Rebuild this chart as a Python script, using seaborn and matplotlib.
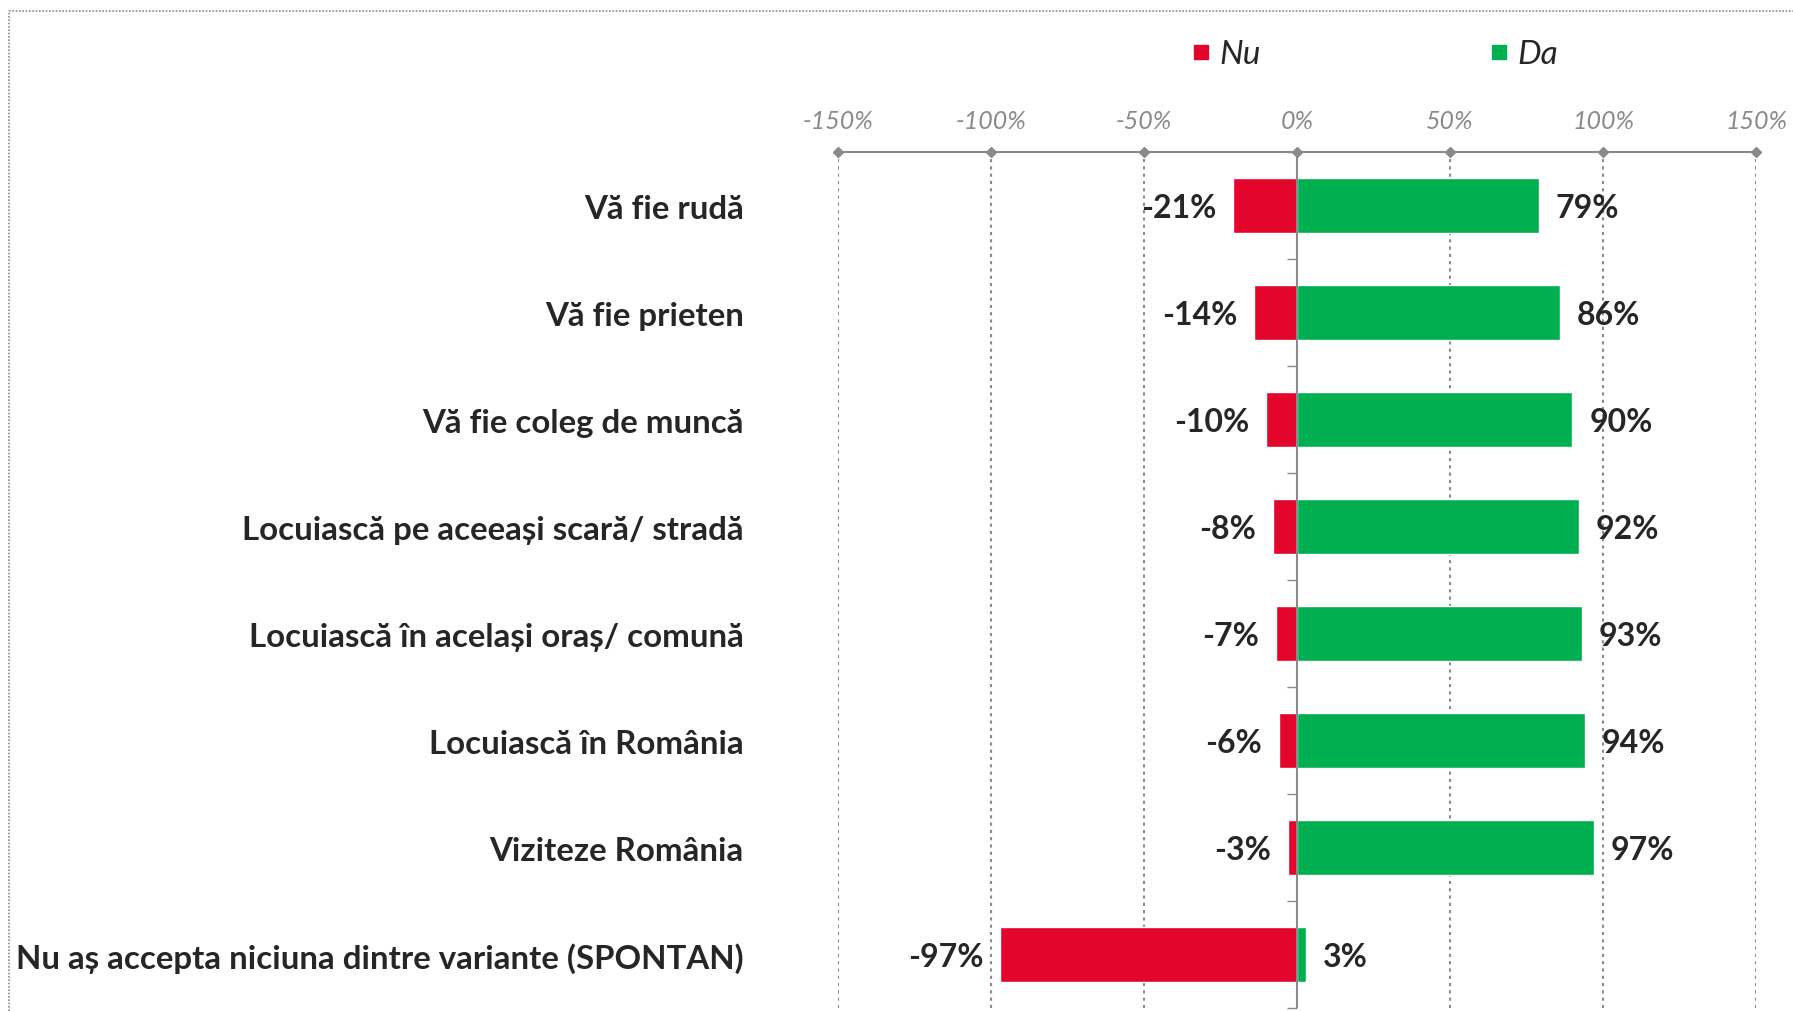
import pandas as pd
import matplotlib.pyplot as plt
import matplotlib.transforms as mtransforms
import seaborn as sns
from matplotlib.lines import Line2D
from matplotlib.patches import Rectangle

# Data
categories = [
    "Vă fie rudă",
    "Vă fie prieten",
    "Vă fie coleg de muncă",
    "Locuiască pe aceeași scară/ stradă",
    "Locuiască în același oraș/ comună",
    "Locuiască în România",
    "Viziteze România",
    "Nu aș accepta niciuna dintre variante (SPONTAN)",
]
nu_values = [-21, -14, -10, -8, -7, -6, -3, -97]
da_values = [79, 86, 90, 92, 93, 94, 97, 3]
x_ticks = [-150, -100, -50, 0, 50, 100, 150]

RED = "#E4052C"
GREEN = "#00AF50"
GRAY = "#8a8a8a"

df = pd.DataFrame({"cat": categories, "Nu": nu_values, "Da": da_values})

sns.set_style("white")
plt.rcParams["font.family"] = ["Lato", "DejaVu Sans"]

fig = plt.figure(figsize=(17.93, 10.11), dpi=100)
ax = fig.add_axes([0.4674, 0.003, 0.512, 0.8467])

sns.barplot(data=df, x="Nu", y="cat", color=RED, width=0.51, saturation=1, ax=ax)
sns.barplot(data=df, x="Da", y="cat", color=GREEN, width=0.51, saturation=1, ax=ax)

ax.set_xlim(-150, 150)
ax.set_ylim(len(categories) - 0.5, -0.5)
ax.set_xlabel("")
ax.set_ylabel("")

# top axis with italic gray labels
ax.xaxis.tick_top()
ax.set_xticks(x_ticks)
ax.set_xticklabels([f"{t}%" for t in x_ticks], fontsize=18, style="italic", color=GRAY)
ax.tick_params(axis="x", length=0, pad=14)
ax.tick_params(axis="y", length=0, pad=68)
shift = mtransforms.ScaledTranslation(0, -2 / 100, fig.dpi_scale_trans)
for lab in ax.get_yticklabels():
    lab.set_fontsize(23.8)
    lab.set_fontweight("bold")
    lab.set_transform(lab.get_transform() + shift)

for s in ["left", "right", "bottom"]:
    ax.spines[s].set_visible(False)
ax.spines["top"].set_color(GRAY)
ax.spines["top"].set_linestyle((0, (1, 1)))
ax.spines["top"].set_linewidth(1.5)

# dotted vertical grid and solid zero line
for t in x_ticks:
    if t != 0:
        ax.axvline(t, color=GRAY, linestyle=(0, (1.5, 2)), linewidth=1.5, zorder=0)
ax.axvline(0, color=GRAY, linewidth=1.5, zorder=3)
ax.plot([0] * (len(categories) + 1), [i - 0.5 for i in range(len(categories) + 1)],
        marker=0, markersize=7, color=GRAY, linestyle="none", clip_on=False, zorder=3)
ax.plot(x_ticks, [1] * len(x_ticks), marker="D", markersize=5, color=GRAY,
        linestyle="none", transform=ax.get_xaxis_transform(), clip_on=False)

# value labels
for i, (n, d) in enumerate(zip(nu_values, da_values)):
    ax.annotate(f"{n}%", (n, i), xytext=(-12, -2.5), textcoords="offset points",
                ha="right", va="center", fontsize=23, fontweight="bold")
    ax.annotate(f"{d}%", (d, i), xytext=(12, -2.5), textcoords="offset points",
                ha="left", va="center", fontsize=23, fontweight="bold")

# legend
handles = [Line2D([], [], marker="s", color=RED, linestyle="none", markersize=10),
           Line2D([], [], marker="s", color=GREEN, linestyle="none", markersize=10)]
leg = fig.legend(handles, ["Nu", "Da"], loc="center", bbox_to_anchor=(0.767, 0.946),
                 ncol=2, frameon=False, handlelength=0.5, handletextpad=0.3,
                 columnspacing=6.9, prop={"size": 24, "style": "italic"})

# dotted frame around the chart
fig.add_artist(Rectangle((0.005, -0.2), 1.2, 1.189, transform=fig.transFigure,
                         fill=False, edgecolor=GRAY, linestyle=(0, (1, 1)), linewidth=1.2))

fig.savefig("out.png", dpi=100)
